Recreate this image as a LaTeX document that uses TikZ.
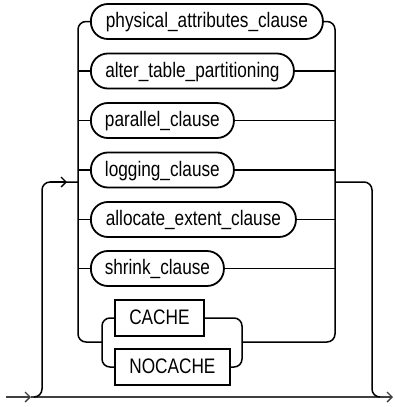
\documentclass[tikz,border=0pt]{standalone}
\usepackage{fontspec}
\setmainfont[FakeStretch=0.82]{Liberation Sans}
\usetikzlibrary{arrows.meta}
\begin{document}
\begin{tikzpicture}[x=1pt,y=-1pt,
  txt/.style={font=\fontsize{21}{22}\selectfont, text height=14pt, text depth=2pt, inner sep=0pt, anchor=west},
  clause/.style={txt, draw, line width=1.8pt, rounded corners=17pt, minimum height=35pt},
  kw/.style={txt, draw, line width=1.8pt, minimum height=36pt},
  conn/.style={line width=1.5pt, rounded corners=8pt},
  mainln/.style={line width=1.6pt, draw=black!75},
  tip/.style={-{Straight Barb[length=5pt,width=10pt,line width=1.4pt]}}]
\useasboundingbox (0,0) rectangle (394,407);

% clause boxes
\node[clause, minimum width=232pt] (phys) at (90,21.5) {physical\_attributes\_clause};
\node[clause, minimum width=203pt] (alter) at (90,71) {alter\_table\_partitioning};
\node[clause, minimum width=143pt] (par) at (90,120.5) {parallel\_clause};
\node[clause, minimum width=143pt] (log) at (90,170) {logging\_clause};
\node[clause, minimum width=205pt] (alloc) at (90,219.5) {allocate\_extent\_clause};
\node[clause, minimum width=133pt] (shr) at (90,268.5) {shrink\_clause};
\node[kw, minimum width=89pt] (cache) at (114,318) {CACHE};
\node[kw, minimum width=115pt] (nocache) at (114,367) {NOCACHE};

% rails
\coordinate (lt) at (78,21.5);
\coordinate (lb) at (78,342);
\coordinate (rt) at (335,21.5);
\coordinate (rb) at (335,342);
\coordinate (sl) at (102,342);
\coordinate (sr) at (242,342);
\coordinate (slt) at (102,318);
\coordinate (slb) at (102,367);
\coordinate (srt) at (242,318);
\coordinate (srb) at (242,367);
\coordinate (loopl) at (78,182);
\coordinate (loopr) at (335,182);

\draw[conn] (phys.west) -- (lt) -- (lb) -- (sl);
\draw[conn] (phys.east) -- (rt) -- (rb) -- (sr);
\foreach \n/\y in {alter/71, par/120.5, log/170, alloc/219.5, shr/268.5}{
  \draw[conn] (78,\y) -- (\n.west);
  \draw[conn] (\n.east) -- (335,\y);
}
\draw[conn] (cache.west) -- (slt) -- (slb) -- (nocache.west);
\draw[conn] (cache.east) -- (srt) -- (srb) -- (nocache.east);

% main line and loop
\coordinate (start) at (6,397);
\coordinate (a1) at (31,397);
\coordinate (j1) at (34,397);
\coordinate (c1) at (42,397);
\coordinate (c2) at (42,182);
\coordinate (t1) at (67,182);
\coordinate (c3) at (372,182);
\coordinate (c4) at (372,397);
\coordinate (j2) at (380,397);
\coordinate (a2) at (393,397);

\draw[mainln, tip] (start) -- (a1);
\draw[mainln] (a1) -- (j2);
\draw[mainln, tip] (j2) -- (a2);
\draw[conn] (j1) -- (c1) -- (c2) -- (loopl);
\draw[line width=1.5pt, tip] (50,182) -- (t1);
\draw[conn] (loopr) -- (c3) -- (c4) -- (j2);
\end{tikzpicture}
\end{document}
